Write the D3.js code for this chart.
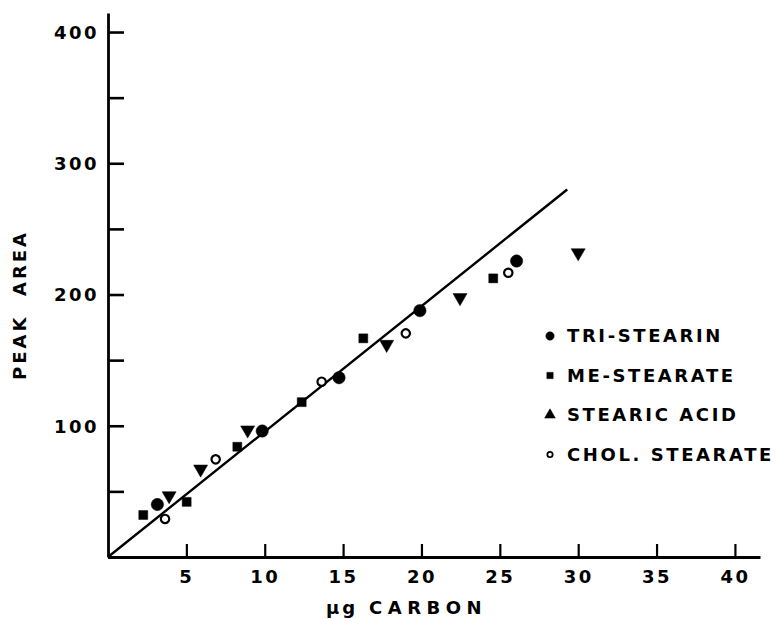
<!DOCTYPE html>
<html>
<head>
<meta charset="utf-8">
<script src="https://cdn.jsdelivr.net/npm/d3@7/dist/d3.min.js"></script>
<style>
  html, body { margin: 0; padding: 0; background: #fff; }
  svg { display: block; }
  text { font-family: "DejaVu Sans", sans-serif; font-weight: bold; fill: #000; }
</style>
</head>
<body>
<script>
// ---- data ----
const xTicks = [5, 10, 15, 20, 25, 30, 35, 40];
const yTicks = [0, 50, 100, 150, 200, 250, 300, 350, 400];
const yLabelTicks = [100, 200, 300, 400];

const triStearinX = [3.15, 9.84, 14.74, 19.9, 26.07];
const triStearinY = [40, 96, 136.6, 187.7, 225.5];

const meStearateX = [2.25, 5.02, 8.25, 12.36, 16.29, 24.58];
const meStearateY = [32, 42, 84, 118, 166.6, 212.3];

const stearicAcidX = [3.9, 5.91, 8.91, 17.78, 22.46, 30.0];
const stearicAcidY = [46.7, 67, 96.8, 162, 197.6, 231.8];

const cholStearateX = [3.64, 6.87, 13.63, 19.0, 25.54];
const cholStearateY = [29, 74.4, 133.6, 170.4, 216.6];

const fitX = [0, 29.3];
const fitY = [0, 280];

const legendLabels = ["TRI-STEARIN", "ME-STEARATE", "STEARIC ACID", "CHOL. STEARATE"];
const xTitleUnit = "μg";
const xTitleWord = "CARBON";
const yTitle = "PEAK  AREA";

// ---- chart ----
const W = 775, H = 619;
const svg = d3.select("body").append("svg").attr("width", W).attr("height", H);

const x = d3.scaleLinear().domain([0, 41.6]).range([108, 760]);
const y = d3.scaleLinear().domain([0, 414.5]).range([557, 13]);

// y axis (ticks inward)
const yAxis = d3.axisLeft(y)
  .tickValues(yTicks)
  .tickSize(-16)
  .tickSizeOuter(0)
  .tickPadding(9)
  .tickFormat(d => yLabelTicks.includes(d) ? String(d) : "");
const gy = svg.append("g").attr("transform", `translate(${x(0)},0)`).call(yAxis);
gy.select(".domain").attr("stroke", "#000").attr("stroke-width", 2.8);
gy.selectAll(".tick line").attr("stroke", "#000").attr("stroke-width", 2.6);
gy.selectAll(".tick text").style("font-size", "18px").style("letter-spacing", "2.5px")
  .attr("font-family", null).attr("dy", "0.36em");

// x axis (ticks inward)
const xAxis = d3.axisBottom(x)
  .tickValues(xTicks)
  .tickSize(-13)
  .tickSizeOuter(0)
  .tickPadding(13)
  .tickFormat(d => String(d));
const gx = svg.append("g").attr("transform", `translate(0,${y(0)})`).call(xAxis);
gx.select(".domain").attr("stroke", "#000").attr("stroke-width", 2.8);
gx.selectAll(".tick line").attr("stroke", "#000").attr("stroke-width", 2.2);
gx.selectAll(".tick text").style("font-size", "18px").style("letter-spacing", "2.5px")
  .attr("font-family", null);

// fit line
const line = d3.line().x(d => x(d[0])).y(d => y(d[1]));
svg.append("path")
  .datum(d3.zip(fitX, fitY))
  .attr("d", line)
  .attr("fill", "none")
  .attr("stroke", "#000")
  .attr("stroke-width", 2.4);

// markers
const sym = {
  circle: d3.symbol().type(d3.symbolCircle),
  square: d3.symbol().type(d3.symbolSquare),
  triangle: d3.symbol().type(d3.symbolTriangle)
};

function plot(xs, ys, kind, size, filled, rot) {
  svg.append("g").selectAll("path")
    .data(d3.zip(xs, ys))
    .join("path")
    .attr("d", sym[kind].size(size)())
    .attr("transform", d => `translate(${x(d[0])},${y(d[1])}) rotate(${rot})`)
    .attr("fill", filled ? "#000" : "#fff")
    .attr("stroke", "#000")
    .attr("stroke-width", filled ? 0.5 : 2.2);
}
plot(triStearinX, triStearinY, "circle", 120, true, 0);
plot(meStearateX, meStearateY, "square", 80, true, 0);
plot(stearicAcidX, stearicAcidY, "triangle", 85, true, 180);
plot(cholStearateX, cholStearateY, "circle", 55, false, 0);

// legend
const legendKinds = [["circle", 55, true, 0], ["square", 40, true, 0], ["triangle", 50, true, 0], ["circle", 22, false, 0]];
const lg = svg.append("g");
legendLabels.forEach((lab, i) => {
  const cy = 336 + i * 39.5;
  const k = legendKinds[i];
  lg.append("path")
    .attr("d", sym[k[0]].size(k[1])())
    .attr("transform", `translate(550,${cy})`)
    .attr("fill", k[2] ? "#000" : "#fff")
    .attr("stroke", "#000")
    .attr("stroke-width", k[2] ? 0.5 : 1.8);
  lg.append("text")
    .attr("x", 567)
    .attr("y", cy)
    .attr("dy", "0.36em")
    .style("font-size", "18px")
    .style("letter-spacing", "2.6px")
    .text(lab);
});

// axis titles
svg.append("text")
  .attr("x", 326)
  .attr("y", 608)
  .attr("dy", "0.36em")
  .style("font-size", "18px")
  .style("letter-spacing", "3px")
  .text(xTitleUnit);
svg.append("text")
  .attr("x", 369)
  .attr("y", 608)
  .attr("dy", "0.36em")
  .style("font-size", "18px")
  .style("letter-spacing", "5.5px")
  .text(xTitleWord);

svg.append("text")
  .attr("transform", "translate(20,305) rotate(-90)")
  .attr("dy", "0.36em")
  .attr("text-anchor", "middle")
  .style("font-size", "18px")
  .style("letter-spacing", "3px")
  .style("white-space", "pre")
  .text(yTitle);
</script>
</body>
</html>
